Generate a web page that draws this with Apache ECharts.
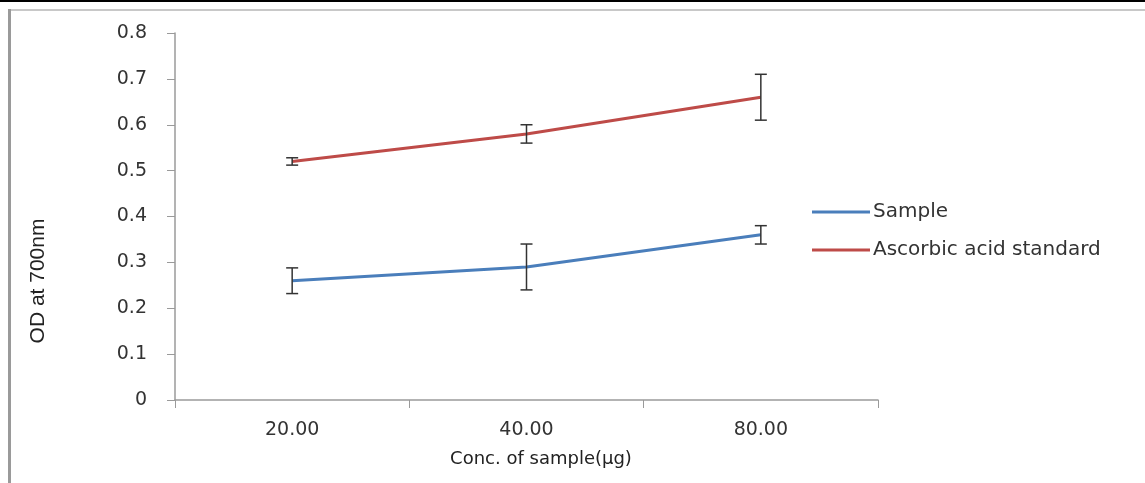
<!DOCTYPE html>
<html>
<head>
<meta charset="utf-8">
<script src="https://cdn.jsdelivr.net/npm/echarts@6/dist/echarts.min.js"></script>
<style>html,body{margin:0;padding:0;background:#fff}#c{width:1145px;height:483px}</style>
</head>
<body>
<div id="c"></div>
<script>
var categories = ['20.00', '40.00', '80.00'];
var sampleValues = [0.26, 0.29, 0.36];
var sampleErrors = [0.028, 0.05, 0.02];
var ascorbicValues = [0.52, 0.58, 0.66];
var ascorbicErrors = [0.008, 0.02, 0.05];
var seriesNames = ['Sample', 'Ascorbic acid standard'];
var yAxisTitle = 'OD at 700nm';
var xAxisTitle = 'Conc. of sample(\u00b5g)';

function errData(vals, errs) {
  return vals.map(function (v, i) { return [i, v - errs[i], v + errs[i]]; });
}
function errRender(params, api) {
  var x = api.value(0);
  var lo = api.coord([x, api.value(1)]);
  var hi = api.coord([x, api.value(2)]);
  var w = 6;
  var st = { stroke: '#333', lineWidth: 1.5 };
  return { type: 'group', children: [
    { type: 'line', shape: { x1: lo[0], y1: lo[1], x2: hi[0], y2: hi[1] }, style: st },
    { type: 'line', shape: { x1: lo[0] - w, y1: lo[1], x2: lo[0] + w, y2: lo[1] }, style: st },
    { type: 'line', shape: { x1: hi[0] - w, y1: hi[1], x2: hi[0] + w, y2: hi[1] }, style: st }
  ]};
}

var chart = echarts.init(document.getElementById('c'));
chart.setOption({
  backgroundColor: '#fff',
  animation: false,
  grid: { left: 175, right: 267, top: 33, bottom: 83, containLabel: false },
  legend: {
    orient: 'vertical', left: 807, top: 196,
    itemWidth: 58, itemHeight: 3, itemGap: 16,
    icon: 'rect',
    textStyle: { fontFamily: 'DejaVu Sans', fontSize: 20, color: '#333', padding: [0,0,0,-2], lineHeight: 22 },
    data: seriesNames
  },
  xAxis: {
    type: 'category', data: categories, boundaryGap: true,
    axisLine: { lineStyle: { color: '#9a9a9a', width: 1.5 } },
    axisTick: { show: true, length: 8, lineStyle: { color: '#9a9a9a' } },
    axisLabel: { margin: 21, fontFamily: 'DejaVu Sans', fontSize: 19, color: '#333' }
  },
  yAxis: {
    type: 'value', min: 0, max: 0.8, interval: 0.1,
    splitLine: { show: false },
    axisLine: { show: true, lineStyle: { color: '#9a9a9a', width: 1.5 } },
    axisTick: { show: true, length: 8, lineStyle: { color: '#9a9a9a' } },
    axisLabel: { margin: 28, fontFamily: 'DejaVu Sans', fontSize: 19, color: '#333' }
  },
  graphic: [
    { type: 'rect', left: 0, top: 0, shape: { width: 1145, height: 2 }, style: { fill: '#000' } },
    { type: 'rect', left: 9, top: 9, shape: { width: 1136, height: 2 }, style: { fill: '#c8c8c8' } },
    { type: 'rect', left: 8, top: 9, shape: { width: 3, height: 474 }, style: { fill: '#9a9a9a' } },
    { type: 'text', x: 38, y: 281, rotation: Math.PI / 2,
      style: { text: yAxisTitle, fontFamily: 'Liberation Sans', fontSize: 21, fill: '#222', align: 'center', verticalAlign: 'middle' } },
    { type: 'text', x: 541, y: 459,
      style: { text: xAxisTitle, fontFamily: 'DejaVu Sans', fontSize: 18, fill: '#222', align: 'center', verticalAlign: 'middle' } }
  ],
  series: [
    { name: seriesNames[0], type: 'line', data: sampleValues, symbol: 'none',
      lineStyle: { width: 3, color: '#4a7ebb' }, itemStyle: { color: '#4a7ebb' } },
    { name: seriesNames[1], type: 'line', data: ascorbicValues, symbol: 'none',
      lineStyle: { width: 3, color: '#be4b48' }, itemStyle: { color: '#be4b48' } },
    { type: 'custom', renderItem: errRender, data: errData(sampleValues, sampleErrors), z: 5, silent: true },
    { type: 'custom', renderItem: errRender, data: errData(ascorbicValues, ascorbicErrors), z: 5, silent: true }
  ]
});
</script>
</body>
</html>
